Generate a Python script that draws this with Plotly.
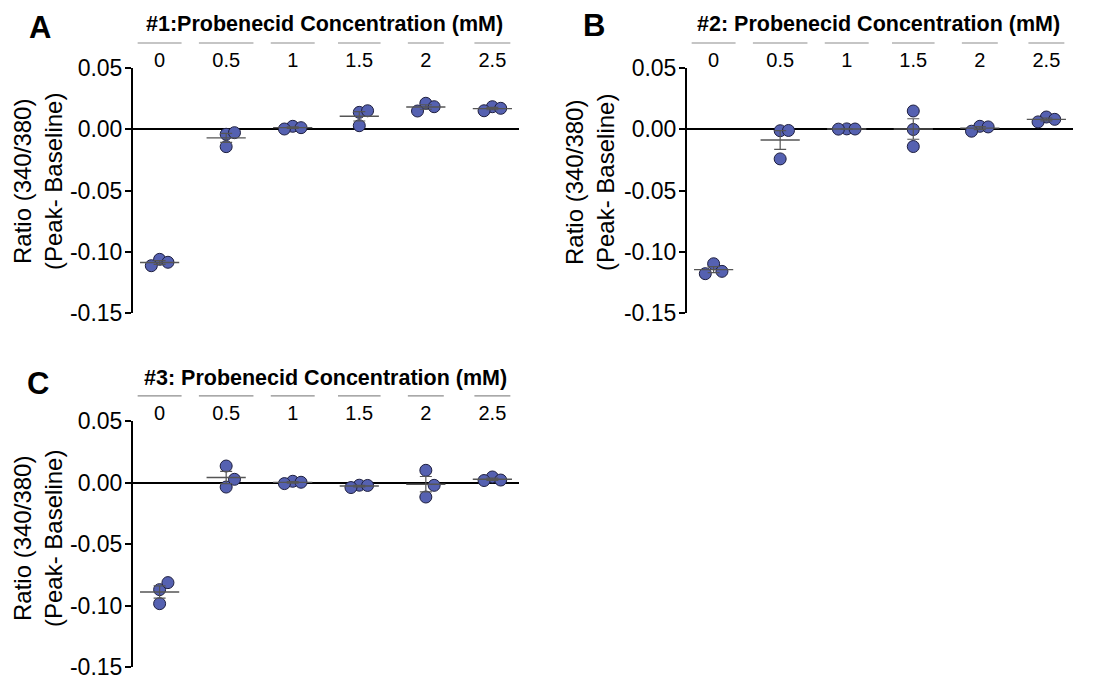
import plotly.graph_objects as go
import numpy as np

# ---------------- data ----------------
conc_labels = ["0", "0.5", "1", "1.5", "2", "2.5"]

exp1_values = [
    [-0.1062, -0.1086, -0.1114],
    [-0.0041, -0.0028, -0.0142],
    [0.0024, 0.0013, 0.0002],
    [0.0138, 0.0151, 0.0029],
    [0.0212, 0.0184, 0.0149],
    [0.0184, 0.0171, 0.0151],
]
exp2_values = [
    [-0.1098, -0.1160, -0.1179],
    [-0.0012, -0.0010, -0.0242],
    [0.0003, 0.0002, 0.0001],
    [0.0149, -0.0002, -0.0141],
    [0.0024, 0.0019, -0.0016],
    [0.0100, 0.0081, 0.0060],
]
exp3_values = [
    [-0.0871, -0.0814, -0.0985],
    [-0.0037, 0.0026, 0.0134],
    [0.0010, 0.0002, -0.0009],
    [-0.0022, -0.0024, -0.0041],
    [-0.0118, -0.0023, 0.0099],
    [0.0045, 0.0020, 0.0016],
]

panel_letters = ["A", "B", "C"]
panel_titles = [
    "#1:Probenecid Concentration (mM)",
    "#2: Probenecid Concentration (mM)",
    "#3: Probenecid Concentration (mM)",
]
y_title = "Ratio (340/380)<br>(Peak- Baseline)"
y_tickvals = [0.05, 0.0, -0.05, -0.10, -0.15]
y_ticktext = ["0.05", "0.00", "-0.05", "-0.10", "-0.15"]

# ---------------- layout / style constants ----------------
W, H = 1094, 680
PAGE_OFFSET = 8          # the page places the figure 8 px from the top-left
FONT = "Arial, Liberation Sans, sans-serif"
MARKER_COLOR = "#5561b1"
MARKER_EDGE = "#1e1f3f"
ERR_COLOR = "#555555"
X_RANGE = [-0.4, 5.4]
Y_RANGE = [-0.15, 0.05]

# pixel boxes (in the final picture) of the three plot areas: (left, right, top, bottom)
panel_boxes = [(133, 519, 68, 313), (687, 1073, 68, 313), (133, 519, 421, 667)]
title_pos = [(324, 24), (878, 24), (325, 378)]
letter_pos = [(40, 27), (594, 25), (38, 383)]
ytitle_pos = [(38, 182), (590, 182), (38, 539)]
header_halfwidths = [0.33, 0.41, 0.33, 0.32, 0.27, 0.27]


def px_x(x):
    return (x - PAGE_OFFSET) / W


def px_y(y):
    return 1 - (y - PAGE_OFFSET) / H


def swarm_offsets(vals, step=0.125, tol=0.0098):
    """Greedy horizontal spreading of points that overlap vertically."""
    placed = []
    offs = []
    cands = [0, step, -step, 2 * step, -2 * step]
    for v in vals:
        for c in cands:
            if all(not (abs(v - pv) < tol and abs(c - po) < 1e-9) for pv, po in placed):
                break
        placed.append((v, c))
        offs.append(c)
    return offs


fig = go.Figure()
datasets = [exp1_values, exp2_values, exp3_values]
annotations = []
shapes = []

for p, (data, box) in enumerate(zip(datasets, panel_boxes)):
    xa = "x" if p == 0 else f"x{p+1}"
    ya = "y" if p == 0 else f"y{p+1}"
    l, r, t, b = box

    xs, ys = [], []
    means, sems = [], []
    for i, vals in enumerate(data):
        offs = swarm_offsets(vals)
        xs += [i + o for o in offs]
        ys += vals
        arr = np.array(vals)
        means.append(arr.mean())
        sems.append(arr.std(ddof=1) / np.sqrt(len(arr)))

    fig.add_trace(go.Scatter(
        x=xs, y=ys, mode="markers", xaxis=xa, yaxis=ya,
        marker=dict(size=12, color=MARKER_COLOR,
                    line=dict(color=MARKER_EDGE, width=1)),
        hoverinfo="skip", showlegend=False,
    ))
    fig.add_trace(go.Scatter(
        x=list(range(len(data))), y=means, mode="markers", xaxis=xa, yaxis=ya,
        marker=dict(symbol="line-ew", size=28,
                    line=dict(color=ERR_COLOR, width=1.4)),
        error_y=dict(type="data", array=sems, visible=True,
                     color=ERR_COLOR, thickness=1.2, width=6),
        hoverinfo="skip", showlegend=False,
    ))

    axis_suffix = "" if p == 0 else str(p + 1)
    fig.update_layout(**{
        f"xaxis{axis_suffix}": dict(
            domain=[px_x(l), px_x(r)], range=X_RANGE, anchor=ya,
            side="top", tickmode="array",
            tickvals=list(range(len(conc_labels))), ticktext=conc_labels,
            showline=False, ticks="", showgrid=False, zeroline=False,
            tickfont=dict(family=FONT, size=20, color="black"),
            ticklabelstandoff=-4,
            fixedrange=True, automargin=False,
        ),
        f"yaxis{axis_suffix}": dict(
            domain=[px_y(b), px_y(t)], range=Y_RANGE, anchor=xa,
            tickmode="array", tickvals=y_tickvals, ticktext=y_ticktext,
            showline=True, linecolor="black", linewidth=2,
            ticks="outside", ticklen=6, tickwidth=2, tickcolor="black",
            ticklabelstandoff=-2,
            showgrid=False, zeroline=True, zerolinecolor="black",
            zerolinewidth=2,
            tickfont=dict(family=FONT, size=23, color="black"),
            fixedrange=True, automargin=False,
        ),
    })

    # gray header lines above each category label
    for i, hw in enumerate(header_halfwidths):
        shapes.append(dict(
            type="line", xref=xa, yref=f"{ya} domain",
            x0=i - hw, x1=i + hw, y0=1 + 25 / 245, y1=1 + 25 / 245,
            line=dict(color="#8c8c8c", width=1.2),
        ))

    tx, ty = title_pos[p]
    annotations.append(dict(
        text=panel_titles[p], x=px_x(tx), y=px_y(ty), xref="paper", yref="paper",
        showarrow=False, xanchor="center", yanchor="middle",
        font=dict(family=FONT, size=21.5, color="black", weight="bold"),
    ))
    lx, ly = letter_pos[p]
    annotations.append(dict(
        text=panel_letters[p], x=px_x(lx), y=px_y(ly), xref="paper", yref="paper",
        showarrow=False, xanchor="center", yanchor="middle",
        font=dict(family=FONT, size=31, color="black", weight="bold"),
    ))
    yx, yy = ytitle_pos[p]
    annotations.append(dict(
        text=y_title, x=px_x(yx), y=px_y(yy), xref="paper", yref="paper",
        showarrow=False, xanchor="center", yanchor="middle", textangle=-90,
        font=dict(family=FONT, size=24, color="black"),
    ))

fig.update_layout(
    template="none",
    width=W, height=H,
    margin=dict(l=0, r=0, t=0, b=0, autoexpand=False),
    paper_bgcolor="white", plot_bgcolor="white",
    showlegend=False,
    annotations=annotations, shapes=shapes,
)

fig.write_html("out.html")
